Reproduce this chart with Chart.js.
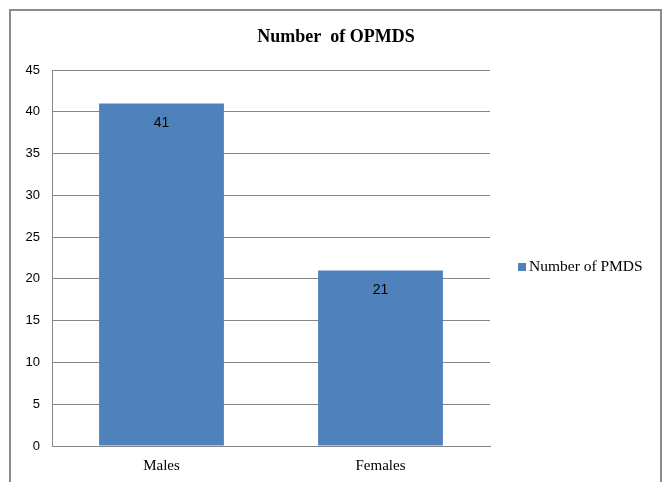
<!DOCTYPE html>
<html>
<head>
<meta charset="utf-8">
<script src="https://cdn.jsdelivr.net/npm/chart.js@4"></script>
<style>
  html, body { margin: 0; padding: 0; background: #fff; }
  #wrap { position: relative; width: 669px; height: 482px; overflow: hidden; }
  #frame { position: absolute; left: 9px; top: 9px; width: 653px; height: 500px; border: 2px solid #8c8c8c; box-sizing: border-box; }
  canvas { position: absolute; left: 0; top: 0; }
</style>
</head>
<body>
<div id="wrap">
  <div id="frame"></div>
  <canvas id="c" width="669" height="482"></canvas>
</div>
<script>
const categories = ["Males", "Females"];
const seriesName = "Number of PMDS";
const values = [41, 21];
const chartTitle = "Number  of OPMDS";
const yTicks = [0, 5, 10, 15, 20, 25, 30, 35, 40, 45];

const serif = "'Liberation Serif', 'Times New Roman', serif";
const sans = "'Liberation Sans', Arial, sans-serif";
const barColor = "#4F81BD";

const decor = {
  id: "decor",
  afterDatasetsDraw(chart) {
    const ctx = chart.ctx;
    ctx.save();
    // title
    ctx.fillStyle = "#000";
    ctx.font = "bold 18px " + serif;
    ctx.textAlign = "center";
    ctx.textBaseline = "middle";
    ctx.fillText(chartTitle, 336, 37);
    // data labels
    ctx.font = "14px " + sans;
    const meta = chart.getDatasetMeta(0);
    meta.data.forEach((bar, i) => {
      ctx.fillText(String(values[i]), bar.x, bar.y + 20);
    });
    // legend
    ctx.fillStyle = barColor;
    ctx.fillRect(518, 263, 8, 8);
    ctx.fillStyle = "#000";
    ctx.textAlign = "left";
    ctx.font = "15.5px " + serif;
    ctx.fillText(seriesName, 529, 267);
    ctx.restore();
  }
};

new Chart(document.getElementById("c"), {
  type: "bar",
  data: {
    labels: categories,
    datasets: [{
      label: seriesName,
      data: values,
      backgroundColor: barColor,
      borderWidth: 0,
      categoryPercentage: 0.57,
      barPercentage: 1.0
    }]
  },
  options: {
    responsive: false,
    animation: false,
    devicePixelRatio: 1,
    layout: { padding: { top: 70, left: 0, right: 179, bottom: 0 } },
    plugins: {
      legend: { display: false },
      title: { display: false },
      tooltip: { enabled: false }
    },
    scales: {
      x: {
        offset: true,
        grid: { display: false, drawTicks: false },
        border: { display: true, color: "#868686", width: 1 },
        ticks: { color: "#000", font: { family: serif, size: 15 }, padding: 11 },
        afterFit(s) { s.height = 36; }
      },
      y: {
        min: 0,
        max: 45,
        afterBuildTicks(s) { s.ticks = yTicks.map(v => ({ value: v })); },
        grid: { color: "#868686", drawTicks: false, lineWidth: 1 },
        border: { display: true, color: "#868686", width: 1 },
        ticks: { color: "#000", font: { family: sans, size: 13 }, padding: 12 },
        afterFit(s) { s.width = 52; }
      }
    }
  },
  plugins: [decor]
});
</script>
</body>
</html>
